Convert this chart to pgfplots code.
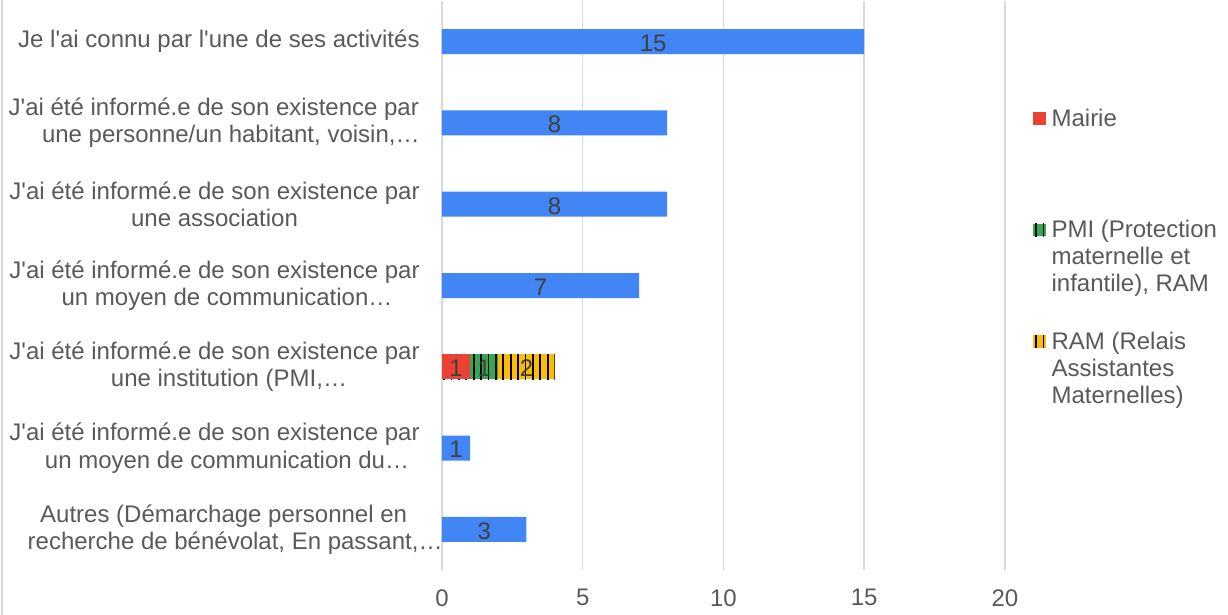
\documentclass[border=0pt]{standalone}
\usepackage{fontspec}
\setmainfont{Liberation Sans}
\usepackage{pgfplots}
\pgfplotsset{compat=1.18}
\usetikzlibrary{patterns.meta}

\definecolor{barblue}{HTML}{4285F4}
\definecolor{barred}{HTML}{EA4335}
\definecolor{bargreen}{HTML}{34A853}
\definecolor{baryellow}{HTML}{FBBC04}
\definecolor{labelgray}{HTML}{595959}
\definecolor{valuegray}{HTML}{404040}
\definecolor{gridgray}{HTML}{D9D9D9}

\newcommand{\q}{\textquotesingle}
\newcommand{\chartfont}{\fontsize{12}{13.6}\selectfont}

% striped fills of the institution bar
\tikzset{
  stripes/.style={postaction={pattern={Lines[angle=90,distance=3.7pt,line width=0.9pt]},pattern color=black}},
}

\begin{document}
\begin{tikzpicture}
\path[use as bounding box] (0,0) rectangle (614pt,307.5pt);
\draw[gridgray, line width=0.75pt] (1pt,0) -- (1pt,307.5pt);
\begin{axis}[
  at={(221pt,22.5pt)}, anchor=south west,
  scale only axis, width=281.5pt, height=284.5pt,
  xmin=0, xmax=20, ymin=-0.5, ymax=6.5, y dir=reverse,
  xtick={0,5,10,15,20}, ytick={0,...,6},
  % truncated lines sit a little to the right, as in the original
  yticklabels={
    {Je l\q ai connu par l\q une de ses activités},
    {J\q ai été informé.e de son existence par\\\hspace*{17pt}une personne/un habitant, voisin,…},
    {J\q ai été informé.e de son existence par\\une association},
    {J\q ai été informé.e de son existence par\\\hspace*{12.5pt}un moyen de communication…},
    {J\q ai été informé.e de son existence par\\\hspace*{14.5pt}une institution (PMI,…},
    {J\q ai été informé.e de son existence par\\\hspace*{12.5pt}un moyen de communication du…},
    {Autres (Démarchage personnel en\\recherche de bénévolat, En passant,…\kern-11.5pt\hbox{}}
  },
  axis line style={draw=none},
  major tick length=0pt,
  xmajorgrids, grid style={gridgray, line width=0.75pt},
  /pgf/number format/assume math mode=true,
  ticklabel style={font=\chartfont, text=labelgray},
  xticklabel style={inner sep=0pt, yshift=-9.5pt},
  yticklabel style={inner sep=0pt, xshift=-11pt, align=center, anchor=east},
  % entries are three lines high; the key sits beside the first line
  legend image code/.code={\path[#1] (0pt,27.8pt) rectangle (6.3pt,34.1pt);},
  legend style={draw=none, fill=none, inner sep=0pt, outer sep=0pt,
    at={(axis description cs:1,1)}, anchor=north west,
    xshift=14pt, yshift=-53.5pt, row sep=15.55pt, column sep=3pt,
    nodes={inner sep=0pt, anchor=base west, align=left,
      text height=36.2pt, text depth=4pt, font=\chartfont, text=labelgray}},
]
% plain bars
\addplot[xbar, bar width=12.5pt, bar shift=0pt, fill=barblue, draw=none, forget plot]
  coordinates {(15,0) (8,1) (8,2) (7,3) (1,5) (3,6)};
% institution bar: drawn from the total down so that each part covers the next
\addplot[xbar, bar width=12.5pt, bar shift=0pt, fill=baryellow, draw=none, stripes, forget plot]
  coordinates {(4,4)};
\addplot[xbar, bar width=12.5pt, bar shift=0pt, fill=bargreen, draw=none, stripes, forget plot]
  coordinates {(2,4)};
\addplot[xbar, bar width=12.5pt, bar shift=0pt, fill=barred, draw=none, forget plot]
  coordinates {(1,4)};
% value labels, centred on each part
\addplot[draw=none, forget plot, nodes near coords, point meta=explicit symbolic,
  nodes near coords style={anchor=center, inner sep=0pt, yshift=-0.8pt, font=\chartfont, text=valuegray}]
  coordinates {(7.5,0) [15] (4,1) [8] (4,2) [8] (3.5,3) [7]
    (0.5,4) [1] (1.5,4) [1] (3,4) [2] (0.5,5) [1] (1.5,6) [3]};
\addlegendimage{fill=barred, draw=none}
\addlegendentry{Mairie\\~\\~}
\addlegendimage{fill=bargreen, draw=none, stripes}
\addlegendentry{PMI (Protection\\maternelle et\\infantile), RAM}
\addlegendimage{fill=baryellow, draw=none, stripes}
\addlegendentry{RAM (Relais\\Assistantes\\Maternelles)}
\end{axis}
\end{tikzpicture}
\end{document}
